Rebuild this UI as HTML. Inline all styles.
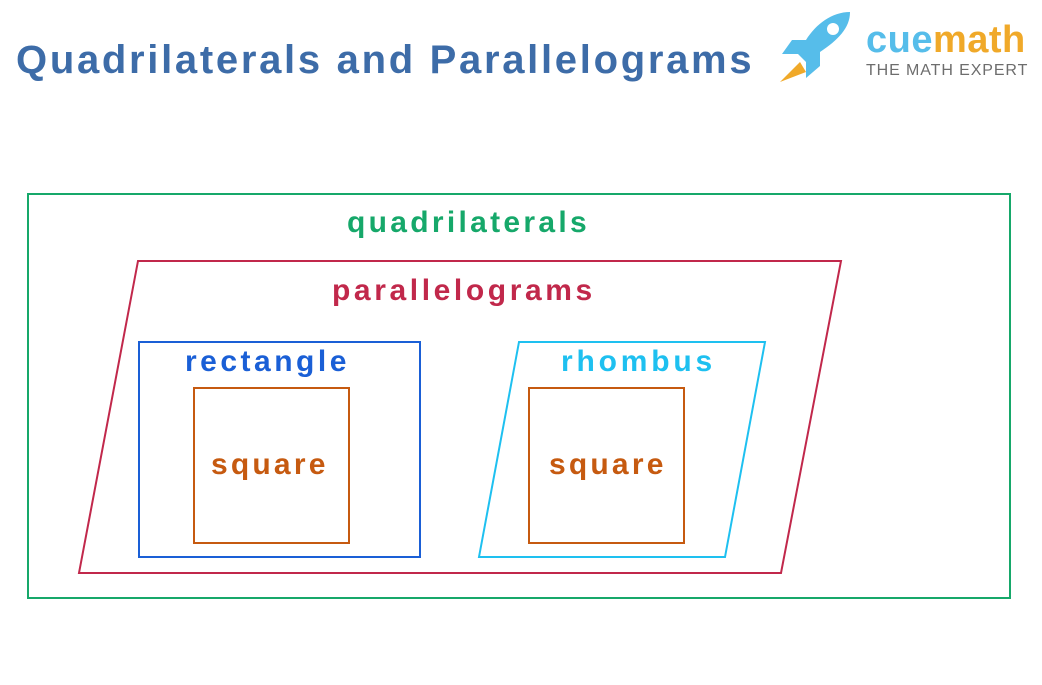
<!DOCTYPE html>
<html><head><meta charset="utf-8"><style>
html,body{margin:0;padding:0;background:#fff;}
body{width:1042px;height:685px;position:relative;overflow:hidden;font-family:"Liberation Sans","DejaVu Sans",sans-serif;}
.t{position:absolute;white-space:nowrap;font-weight:bold;}
</style></head><body>
<div class="t" style="left:16px;top:38px;font-size:40px;color:#3d6ca8;letter-spacing:2.7px;">Quadrilaterals and Parallelograms</div>
<svg width="1042" height="685" style="position:absolute;left:0;top:0">
  <g transform="translate(776,8)">
    <path d="M74 4 C56 4 40 16 30 32 L16 32 L6 46 L22 46 L30 54 L30 70 L44 58 L44 44 C62 32 74 20 74 4 Z" fill="#56bdea"/>
    <circle cx="57" cy="21" r="6" fill="#fff"/>
    <path d="M24 54 L4 74 L30 64 Z" fill="#f0a929"/>
  </g>
  <rect x="28" y="194" width="982" height="404" fill="none" stroke="#16a86a" stroke-width="2"/>
  <polygon points="138,261 841,261 781,573 79,573" fill="none" stroke="#c1284b" stroke-width="2"/>
  <rect x="139" y="342" width="281" height="215" fill="none" stroke="#1a5fd6" stroke-width="2"/>
  <polygon points="519,342 765,342 725,557 479,557" fill="none" stroke="#1ec0f0" stroke-width="2"/>
  <rect x="194" y="388" width="155" height="155" fill="none" stroke="#c65a10" stroke-width="2"/>
  <rect x="529" y="388" width="155" height="155" fill="none" stroke="#c65a10" stroke-width="2"/>
</svg>
<div class="t" style="left:866px;top:19px;font-size:38px;letter-spacing:0.5px;"><span style="color:#56bdea">cue</span><span style="color:#f0a929">math</span></div>
<div class="t" style="left:866px;top:62px;font-size:16px;color:#6d6d6d;font-weight:normal;letter-spacing:0.9px;">THE MATH EXPERT</div>
<div class="t" style="left:347px;top:206px;font-size:30px;color:#16a86a;letter-spacing:3.3px;">quadrilaterals</div>
<div class="t" style="left:332px;top:274px;font-size:30px;color:#c1284b;letter-spacing:3.6px;">parallelograms</div>
<div class="t" style="left:185px;top:345px;font-size:30px;color:#1a5fd6;letter-spacing:3.5px;">rectangle</div>
<div class="t" style="left:561px;top:345px;font-size:30px;color:#1ec0f0;letter-spacing:3.8px;">rhombus</div>
<div class="t" style="left:211px;top:448px;font-size:30px;color:#c65a10;letter-spacing:3.2px;">square</div>
<div class="t" style="left:549px;top:448px;font-size:30px;color:#c65a10;letter-spacing:3.2px;">square</div>
</body></html>
